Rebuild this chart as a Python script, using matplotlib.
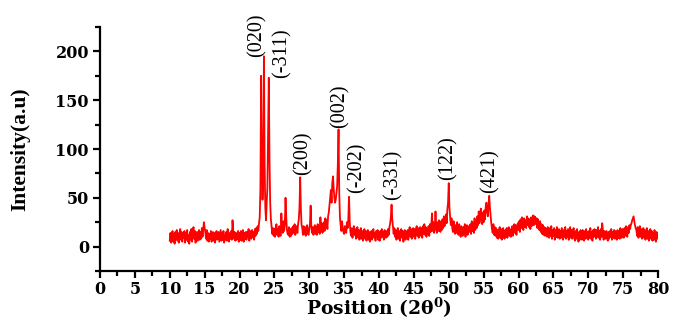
import numpy as np
import matplotlib
matplotlib.use('Agg')
import matplotlib.pyplot as plt
from matplotlib.ticker import MultipleLocator

plt.rcParams['mathtext.fontset'] = 'dejavuserif'

# 2-theta grid: 10.0 to 80.0 in 0.1 deg steps, intensity
two_theta = np.round(np.arange(100, 801) / 10.0, 1)

intensity = [
    6, 14, 4, 12, 16, 5, 13, 3, 15, 8,            # 10
    17, 6, 14, 4, 11, 18, 7, 15, 5, 12,           # 11
    9, 16, 4, 14, 7, 17, 5, 12, 3, 15,            # 12
    7, 18, 5, 14, 20, 8, 16, 4, 12, 15,           # 13
    6, 14, 17, 7, 15, 8, 19, 10, 17, 25,          # 14
    19, 15, 8, 17, 6, 14, 5, 13, 8, 16,           # 15
    5, 12, 15, 6, 14, 4, 11, 16, 7, 13,           # 16
    15, 5, 11, 17, 6, 14, 7, 16, 4, 12,           # 17
    7, 15, 6, 18, 10, 5, 14, 8, 16, 7,            # 18
    27, 16, 8, 15, 6, 14, 7, 12, 16, 5,           # 19
    14, 7, 16, 6, 12, 17, 5, 14, 8, 15,           # 20
    7, 15, 10, 18, 6, 14, 16, 8, 17, 10,          # 21
    15, 7, 18, 11, 19, 13, 21, 16, 24, 30,        # 22
    60, 175, 90, 48, 70, 195, 85, 40, 27, 45,     # 23
    60, 120, 173, 90, 45, 28, 20, 13, 19, 11,     # 24
    18, 10, 20, 23, 12, 18, 10, 21, 14, 11,       # 25
    34, 20, 14, 26, 16, 23, 50, 30, 17, 13,       # 26
    12, 20, 10, 18, 11, 19, 13, 21, 15, 23,       # 27
    12, 18, 21, 14, 23, 28, 40, 71, 38, 22,       # 28
    19, 12, 21, 13, 20, 11, 18, 22, 14, 12,       # 29
    18, 23, 42, 20, 14, 20, 12, 19, 22, 13,       # 30
    20, 12, 23, 15, 21, 13, 30, 16, 24, 14,       # 31
    21, 25, 16, 29, 20, 27, 18, 31, 35, 42,       # 32
    50, 58, 45, 65, 72, 60, 50, 45, 48, 55,       # 33
    62, 85, 120, 55, 30, 22, 16, 26, 19, 15,      # 34
    13, 21, 16, 14, 25, 19, 28, 51, 26, 15,       # 35
    11, 19, 9, 17, 21, 12, 18, 8, 16, 20,         # 36
    9, 17, 7, 15, 19, 8, 16, 6, 14, 18,           # 37
    8, 16, 6, 14, 17, 7, 15, 5, 13, 16,           # 38
    7, 15, 18, 9, 14, 6, 16, 10, 17, 7,           # 39
    14, 6, 16, 9, 18, 10, 15, 7, 17, 11,          # 40
    9, 16, 10, 18, 12, 20, 24, 30, 43, 28,        # 41
    20, 13, 19, 10, 17, 7, 15, 19, 8, 16,         # 42
    6, 15, 18, 9, 16, 5, 14, 17, 7, 15,           # 43
    9, 17, 7, 16, 20, 10, 18, 8, 15, 19,          # 44
    10, 18, 8, 17, 21, 11, 19, 9, 16, 20,         # 45
    11, 19, 9, 21, 13, 23, 12, 20, 10, 18,        # 46
    13, 21, 11, 23, 15, 22, 34, 16, 25, 14,       # 47
    18, 36, 20, 14, 25, 16, 27, 19, 15, 26,       # 48
    17, 28, 19, 31, 21, 29, 33, 24, 38, 45,       # 49
    65, 40, 30, 22, 29, 19, 15, 26, 17, 13,       # 50
    22, 14, 25, 16, 12, 23, 15, 10, 21, 13,       # 51
    11, 20, 13, 23, 10, 19, 22, 12, 18, 21,       # 52
    15, 23, 13, 26, 16, 24, 14, 29, 17, 25,       # 53
    19, 31, 22, 36, 24, 33, 39, 28, 23, 35,       # 54
    25, 37, 28, 41, 45, 36, 31, 43, 52, 40,       # 55
    32, 24, 18, 14, 23, 12, 20, 11, 19, 9,        # 56
    17, 8, 16, 20, 9, 18, 7, 15, 19, 10,          # 57
    8, 17, 10, 19, 9, 16, 20, 11, 18, 10,         # 58
    13, 21, 11, 19, 23, 14, 22, 12, 20, 24,       # 59
    17, 26, 15, 28, 19, 30, 21, 17, 29, 20,       # 60
    27, 19, 31, 22, 29, 20, 28, 18, 30, 21,       # 61
    28, 32, 22, 31, 30, 23, 29, 19, 28, 21,       # 62
    17, 26, 15, 23, 13, 22, 12, 20, 11, 19,       # 63
    18, 10, 20, 12, 9, 19, 11, 21, 8, 17,         # 64
    11, 19, 7, 17, 10, 20, 9, 16, 18, 8,          # 65
    16, 9, 19, 11, 7, 17, 10, 20, 8, 16,          # 66
    10, 18, 7, 16, 20, 9, 17, 8, 15, 19,          # 67
    9, 6, 16, 8, 18, 10, 5, 15, 7, 17,            # 68
    10, 7, 17, 9, 6, 16, 8, 18, 9, 15,            # 69
    7, 16, 9, 19, 8, 15, 6, 17, 10, 18,           # 70
    15, 8, 17, 10, 20, 9, 16, 7, 18, 10,          # 71
    24, 17, 7, 16, 15, 8, 16, 10, 6, 15,          # 72
    8, 16, 10, 18, 7, 15, 9, 17, 8, 16,           # 73
    10, 7, 17, 9, 16, 8, 19, 11, 9, 18,           # 74
    16, 9, 19, 11, 21, 13, 10, 20, 14, 22,        # 75
    18, 22, 24, 27, 29, 31, 26, 22, 19, 17,       # 76
    11, 20, 9, 17, 21, 10, 18, 8, 16, 19,         # 77
    9, 17, 7, 15, 19, 8, 16, 6, 14, 18,           # 78
    8, 16, 6, 14, 7, 17, 9, 5, 15, 8,             # 79
    10,                                           # 80
]

# reflection labels: text, x position, y of label base
hkl_labels = ['(020)', '(-311)', '(200)', '(002)', '(-202)', '(-331)', '(122)', '(421)']
hkl_x = [22.5, 26.1, 29.1, 34.4, 36.8, 42.0, 49.9, 55.9]
hkl_y = [194, 173, 73, 122, 55, 48, 68, 55]

fig = plt.figure(figsize=(6.86, 3.23), dpi=100)
ax = fig.add_axes([100 / 686, 52 / 323, 558 / 686, 244 / 323])

ax.plot(two_theta, intensity, color='red', linewidth=1.3)

for lab, x, y in zip(hkl_labels, hkl_x, hkl_y):
    ax.text(x, y, lab, rotation=90, ha='center', va='bottom',
            fontsize=14.5, family='Liberation Serif')

ax.set_xlim(0, 80)
ax.set_ylim(-25, 225)
ax.xaxis.set_major_locator(MultipleLocator(5))
ax.xaxis.set_minor_locator(MultipleLocator(2.5))
ax.yaxis.set_major_locator(MultipleLocator(50))
ax.yaxis.set_minor_locator(MultipleLocator(25))

for side in ['top', 'right']:
    ax.spines[side].set_visible(False)
for side in ['left', 'bottom']:
    ax.spines[side].set_linewidth(1.6)

ax.tick_params(which='major', direction='out', length=5, width=1.6, pad=3)
ax.tick_params(which='minor', direction='out', length=3.5, width=1.6)
ax.tick_params(axis='x', pad=2)
for lbl in ax.get_xticklabels() + ax.get_yticklabels():
    lbl.set_family('DejaVu Serif')
    lbl.set_fontweight('bold')
    lbl.set_fontsize(11.5)

ax.set_xlabel('Position (2\u03b8$^{\\mathbf{0}}$)', family='DejaVu Serif',
              fontweight='bold', fontsize=13.5, labelpad=-1)
ax.set_ylabel('Intensity(a.u)', family='Liberation Serif',
              fontweight='bold', fontsize=15.5, labelpad=18)

fig.savefig('out.png', dpi=100)
